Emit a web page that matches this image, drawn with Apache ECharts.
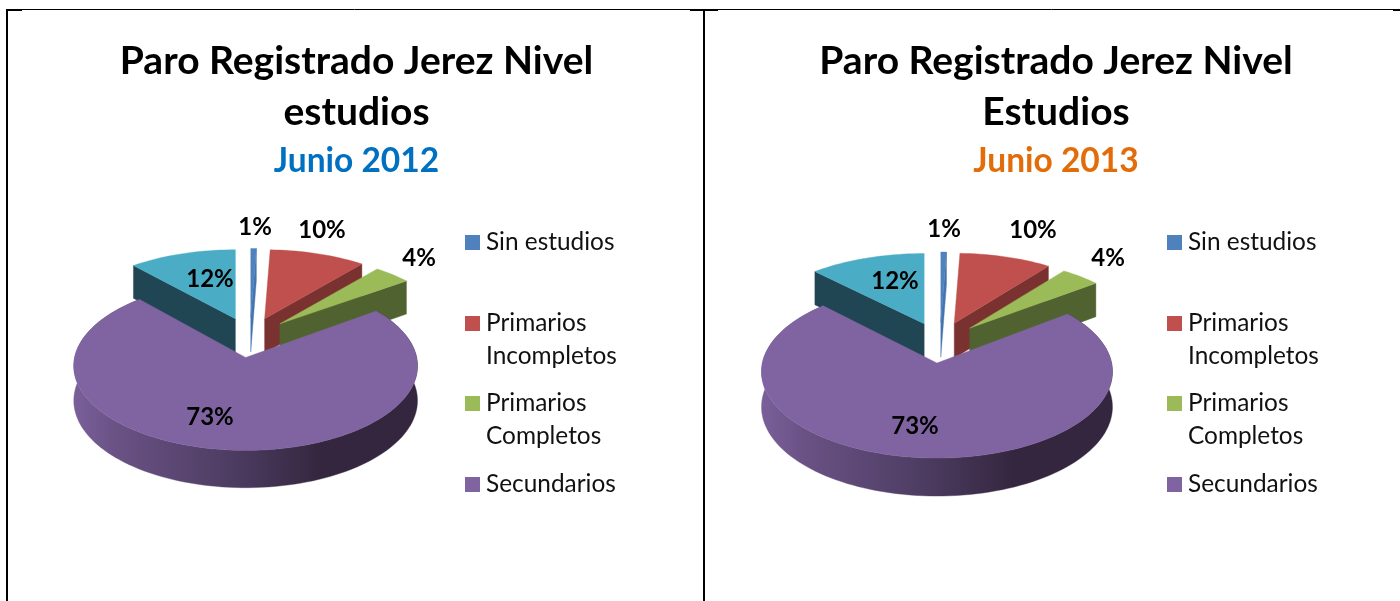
<!DOCTYPE html>
<html><head><meta charset="utf-8">
<style>html,body{margin:0;padding:0;background:#fff}#c{width:1400px;height:601px}</style>
<script src="https://cdn.jsdelivr.net/npm/echarts@6/dist/echarts.min.js"></script>
</head><body><div id="c"></div>
<script>
const legendLines = [['Sin estudios'],['Primarios','Incompletos'],['Primarios','Completos'],['Secundarios']];
const values2012 = [0.6, 10.4, 4.0, 73.4, 11.6];
const values2013 = [0.6, 9.8, 4.2, 73.1, 12.3];
const topColors  = ['#4F81BD','#C0504D','#9BBB59','#8064A2','#4BACC6'];
const wallColors = ['#4474AE','#7A3230','#506230','#4A3A5F','#1F4652'];
const titles2012 = ['Paro Registrado Jerez Nivel\nestudios','Junio 2012'];
const titles2013 = ['Paro Registrado Jerez Nivel\nEstudios','Junio 2013'];
const FONT = 'Lato, Carlito, "Open Sans", sans-serif';

// pie layout: centre, radius, tilt, perspective, explosion, wall depth
const pies = [
  {values:values2012, xc:250, yc:337.5, R:170, k:.466, p:.148, ex:41, ey:43, d:34.5, R2:171, k2:.489, p2:.10,
   labels:[[255,227],[322,230],[419,258],[210,417],[210,279]], titleX:351.5, subColor:'#0070C0', titles:titles2012, legX:465},
  {values:values2013, xc:940, yc:342.6, R:173.5, k:.465, p:.151, ex:42, ey:44, d:35, R2:174.6, k2:.49, p2:.10,
   labels:[[944,229],[1033,230],[1108,258],[915,426],[895,281]], titleX:1051, subColor:'#E36C0A', titles:titles2013, legX:1167}
];

function sliceAngles(vals){
  const tot = vals.reduce((a,b)=>a+b,0); let a=0;
  return vals.map(v=>{const s=a; a+=v/tot*Math.PI*2; return [s,a];});
}
function makeProj(P,mid,front){
  const ax=P.xc+P.ex*Math.sin(mid), ay=P.yc-P.ey*P.k*Math.cos(mid);
  const R=front?P.R2:P.R, k=front?P.k2:P.k, p=front?P.p2:P.p;
  const rim=t=>{
    const u=Math.sin(t), v=-Math.cos(t), s=1/(1-p*v);
    return {x:ax+R*u*s, y:ay+R*k*v*s, dz:P.d*Math.sqrt(1/(1-P.p*v))};
  };
  return {ax,ay,rim};
}
function arcPts(pr,a,b){
  const n=Math.max(2,Math.ceil((b-a)/(Math.PI/90))),o=[];
  for(let i=0;i<=n;i++){o.push(pr.rim(a+(b-a)*i/n));}
  return o;
}
// paint order: back slices first, the large front slice last
const paintOrder=[1,2,0,4,3];

function renderSlice(P){
  const ang=sliceAngles(P.values);
  return function(params,api){
    const i=paintOrder[api.value(0)];
    const [a,b]=ang[i], mid=(a+b)/2, pr=makeProj(P,mid,i===3), kids=[];
    const pts=arcPts(pr,a,b);
    const poly=(points,fill)=>kids.push({type:'polygon',shape:{points},style:{fill,stroke:fill,lineWidth:.4}});
    const apex=[pr.ax,pr.ay];
    if(i===3){
      const front=pts.map(q=>[q.x,q.y]).concat(pts.slice().reverse().map(q=>[q.x,q.y+q.dz]));
      poly(front,new echarts.graphic.LinearGradient(0,0,1,0,[
        {offset:0,color:'#7A5F99'},{offset:.12,color:'#6A5285'},{offset:.45,color:'#4E3D63'},{offset:.72,color:'#35263F'},{offset:1,color:'#352640'}]));
    } else {
      // visible straight wall: the radial face turned to the viewer
      const q=(i===4)?pts[0]:pts[pts.length-1];
      poly([apex,[q.x,q.y],[q.x,q.y+q.dz],[apex[0],apex[1]+P.d]],wallColors[i]);
    }
    poly([apex].concat(pts.map(q=>[q.x,q.y])),topColors[i]);
    return {type:'group',children:kids};
  };
}

const option={
  animation:false,
  backgroundColor:'#fff',
  title:pies.map(P=>({
    text:P.titles[0],subtext:P.titles[1],left:P.titleX,top:31,textAlign:'center',itemGap:1,
    textStyle:{fontFamily:FONT,fontSize:39,fontWeight:'bold',color:'#000',lineHeight:51},
    subtextStyle:{fontFamily:FONT,fontSize:33.5,fontWeight:'bold',color:P.subColor,lineHeight:44,align:'center'}
  })),
  series:pies.map(P=>({
    type:'custom',coordinateSystem:'none',silent:true,
    renderItem:renderSlice(P),
    data:P.values.map((v,i)=>[i,v]),
    z:2
  }))
};
const g=[];
// table borders
const line=(x1,y1,x2,y2,w)=>g.push({type:'line',shape:{x1,y1,x2,y2},style:{stroke:'#000',lineWidth:w},silent:true});
line(7,601,7,9,2);line(704,10,704,601,2);
line(6,9.5,1400,9.5,1);
line(6,10,22,10,2);line(690,10,718,10,2);line(1393,10,1400,10,2);
// percent labels computed from values
pies.forEach(P=>{
  P.values.forEach((v,i)=>{
    g.push({type:'text',x:P.labels[i][0],y:P.labels[i][1],z:10,silent:true,
      style:{text:Math.max(1,Math.round(v))+'%',font:'bold 24px '+FONT,fill:'#000',textAlign:'center',textVerticalAlign:'middle'}});
  });
  const tops=[235,316,396,477];
  legendLines.forEach((lines,i)=>{
    g.push({type:'rect',shape:{x:P.legX,y:tops[i],width:15,height:15},style:{fill:topColors[i]},silent:true});
    lines.forEach((t,j)=>g.push({type:'text',x:P.legX+21,y:tops[i]+7.5+j*32.5,silent:true,
      style:{text:t,font:'24.4px '+FONT,fill:'#111',textAlign:'left',textVerticalAlign:'middle'}}));
  });
});
option.graphic=g;
echarts.init(document.getElementById('c')).setOption(option);
</script></body></html>
